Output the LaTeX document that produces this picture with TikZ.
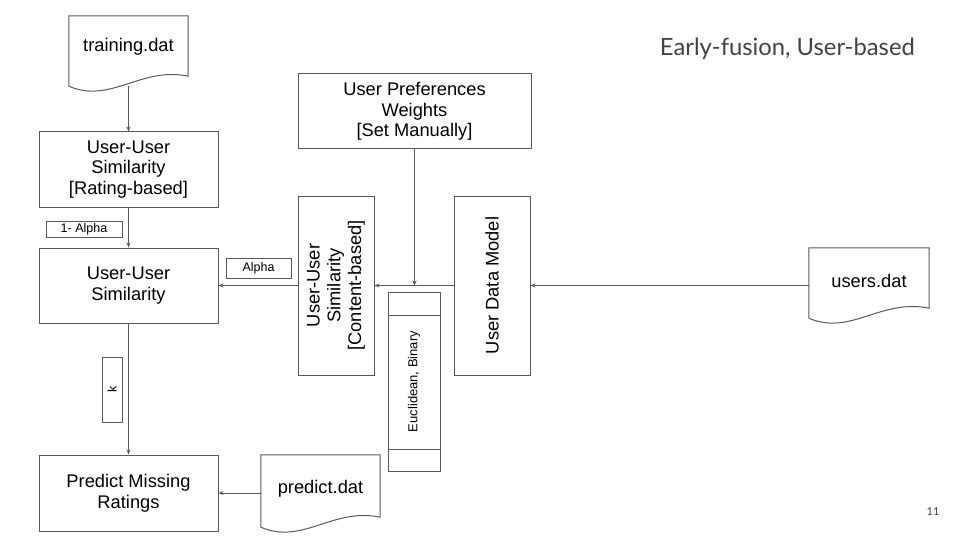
\documentclass[tikz,border=0pt]{standalone}
\usepackage{fontspec}
\setmainfont{Liberation Sans}
\newfontfamily\titlefont{Lato}
\usetikzlibrary{arrows.meta,calc}
\definecolor{lin}{HTML}{595959}
\definecolor{ttl}{HTML}{434343}
\tikzset{
  box/.style={draw=lin, line width=1pt, align=center, inner sep=0pt, font=\fontsize{18.3}{20.7}\selectfont},
  lbl/.style={draw=lin, line width=1pt, inner sep=0pt, font=\fontsize{12.5}{15}\selectfont},
  docnode/.style={inner sep=0pt, align=center, text height=13pt, text depth=4pt, font=\fontsize{18.3}{20.7}\selectfont},
  docline/.style={draw=lin, line width=1pt},
  arr/.style={draw=lin, line width=1pt, -{Stealth[length=5pt,width=4pt]}},
}
\newcommand{\docoutline}[1]{%
  \draw[docline] (#1.south west) -- (#1.north west) -- (#1.north east) -- ($(#1.south east)+(0,-10)$)
    .. controls ($(#1.south west)+(72,-20)$) and ($(#1.south west)+(42,18)$) .. (#1.south west);}
\begin{document}
\begin{tikzpicture}[x=1pt,y=-1pt]
\useasboundingbox (0,0) rectangle (960,540);

% document nodes
\node[docnode, minimum width=119pt, minimum height=70pt] (training) at (128.5,51) {\raisebox{3.5pt}{training.dat}};
\docoutline{training}
\node[docnode, minimum width=120pt, minimum height=70pt] (users) at (869,283) {\raisebox{0pt}{users.dat}};
\docoutline{users}
\node[docnode, minimum width=119pt, minimum height=72pt] (predict) at (320.5,491) {\raisebox{2.5pt}{predict.dat}};
\docoutline{predict}

% process boxes
\node[box, minimum width=179pt, minimum height=75pt] (rating) at (128.5,169.5) {User-User\\Similarity\\{[Rating-based]}};
\node[box, minimum width=179pt, minimum height=75pt] (uus) at (128.5,285.5) {User-User\\Similarity};
\node[box, minimum width=179pt, minimum height=76pt] (pmr) at (128.5,493) {Predict Missing\\Ratings};
\node[box, minimum width=233pt, minimum height=75pt] (upw) at (414.5,111.5) {User Preferences\\Weights\\{[Set Manually]}};
\node[box, rotate=90, minimum width=179pt, minimum height=76pt] (cb) at (336,285.5) {User-User\\Similarity\\{[Content-based]}};
\node[box, rotate=90, minimum width=179pt, minimum height=76pt] (udm) at (492,285.5) {User Data Model};

% Euclidean box
\node[lbl, rotate=90, minimum width=179pt, minimum height=52pt, font=\fontsize{13}{15}\selectfont] (eu) at (414,381.5) {Euclidean, Binary};
\draw[docline] ($(eu.center)+(-26,-66.5)$) -- ($(eu.center)+(26,-66.5)$);
\draw[docline] ($(eu.center)+(-26,67.5)$) -- ($(eu.center)+(26,67.5)$);

% small labels
\node[lbl, minimum width=76pt, minimum height=16pt] (oma) at (84,229) {1- Alpha};
\node[lbl, minimum width=65pt, minimum height=20pt] (alpha) at (258.5,268) {Alpha};
\node[lbl, rotate=90, minimum width=65pt, minimum height=20pt] (k) at (112,389.5) {k};

% connectors
\draw[arr] (training) -- (rating);
\draw[arr] (rating) -- (uus);
\draw[arr] (uus) -- (pmr);
\draw[arr] (cb.north) -- (uus.east |- cb.north);
\draw[arr] (udm.north) -- (cb.south);
\draw[arr] (users.west |- udm.south) -- (udm.south);
\draw[arr] (upw.south) -- (upw.south |- udm.north);
\draw[arr] (predict.west |- pmr.east) -- (pmr.east);

% title and page number
\node[anchor=base east, text=ttl, inner sep=0pt, font=\titlefont\fontsize{23.8}{27}\selectfont] (title) at (915,56) {Early-fusion, User-based};
\node[anchor=base, text=ttl, inner sep=0pt, font=\titlefont\fontsize{11}{13}\selectfont] (pg) at (933,515) {11};
\end{tikzpicture}
\end{document}
